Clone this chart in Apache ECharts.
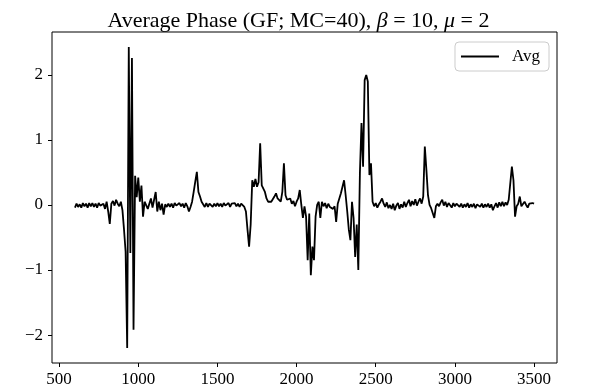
<!DOCTYPE html>
<html>
<head>
<meta charset="utf-8">
<script src="https://cdn.jsdelivr.net/npm/echarts@6/dist/echarts.min.js"></script>
<style>
  html, body { margin: 0; padding: 0; background: #fff; }
  #chart { width: 597px; height: 392px; }
</style>
</head>
<body>
<div id="chart"></div>
<script>
// x grid of the run (600 .. 3500, step 10)
const xStart = 600;
const xStep = 10;

// average phase, one row per 100 units of x
const avgPhase = [
  -0.04, 0.02, -0.03, 0.01, -0.04, 0.03, -0.02, 0.02, -0.04, 0.03,   // 600
  -0.02, 0.03, -0.03, 0.02, -0.04, 0.03, -0.01, -0.03, 0.02, -0.06,  // 700
  0.05, -0.10, -0.29, 0.02, 0.06, -0.01, 0.08, 0.02, -0.02, 0.05,    // 800
  -0.08, -0.38, -0.72, -2.20, 2.43, -0.74, 2.26, -1.92, 0.45, 0.12,  // 900
  0.42, 0.05, 0.30, -0.18, 0.05, 0.07, -0.06, -0.08, 0.10, -0.04,    // 1000
  0.08, 0.20, -0.10, 0.05, -0.08, 0.02, -0.15, 0.01, -0.03, 0.02,    // 1100
  -0.03, 0.02, -0.04, 0.03, -0.01, -0.03, 0.03, -0.02, 0.02, -0.04,  // 1200
  0.03, -0.02, -0.10, -0.03, 0.05, 0.20, 0.36, 0.51, 0.20, 0.13,     // 1300
  0.05, 0.03, -0.03, 0.03, -0.03, 0.02, 0.03, -0.03, 0.02, -0.02,    // 1400
  0.03, -0.02, 0.02, -0.03, 0.03, -0.01, -0.02, 0.03, -0.03, 0.02,   // 1500
  -0.01, 0.03, -0.02, 0.02, -0.03, 0.02, -0.01, -0.03, -0.10, -0.38, // 1600
  -0.64, -0.30, 0.38, 0.28, 0.40, 0.28, 0.35, 0.95, 0.30, 0.32,      // 1700
  0.20, 0.10, 0.05, 0.02, 0.05, 0.08, 0.13, 0.18, 0.10, 0.13,        // 1800
  0.05, 0.20, 0.64, 0.15, 0.08, 0.05, 0.10, 0.02, 0.06, -0.02,       // 1900
  0.05, 0.10, 0.23, 0.00, -0.20, -0.02, -0.18, -0.85, -0.13, -1.08,  // 2000
  -0.64, -0.85, -0.18, 0.00, 0.05, -0.20, 0.05, -0.02, 0.03, -0.05,  // 2100
  0.02, -0.03, 0.00, -0.06, -0.02, -0.26, 0.02, 0.05, 0.18, 0.20,    // 2200
  0.38, 0.15, -0.10, -0.38, -0.54, 0.05, -0.20, -0.80, -0.30, -1.00, // 2300
  0.49, 1.26, 0.59, 1.92, 2.00, 1.90, 0.46, 0.64, 0.05, -0.02,       // 2400
  0.03, -0.04, 0.01, 0.05, 0.10, 0.02, -0.03, 0.04, -0.05, 0.00,     // 2500
  -0.06, 0.02, -0.08, -0.01, 0.03, -0.06, 0.01, -0.04, 0.05, -0.03,  // 2600
  0.03, 0.08, -0.02, 0.06, 0.00, 0.09, -0.01, 0.05, 0.10, 0.02,      // 2700
  0.13, 0.90, 0.54, 0.15, 0.00, -0.05, -0.08, -0.20, -0.02, 0.02,    // 2800
  -0.02, 0.04, 0.08, -0.01, 0.05, -0.03, 0.03, 0.00, -0.04, 0.03,    // 2900
  -0.02, 0.02, 0.04, -0.03, 0.02, -0.04, 0.01, -0.03, 0.03, -0.04,   // 3000
  0.01, -0.03, 0.02, -0.05, 0.01, 0.03, -0.03, 0.02, -0.04, 0.01,    // 3100
  -0.03, 0.02, -0.04, 0.01, -0.08, -0.02, 0.03, -0.04, 0.04, -0.02,  // 3200
  0.05, -0.02, 0.04, 0.00, 0.08, 0.10, 0.59, 0.38, -0.18, -0.02,     // 3300
  0.02, 0.13, -0.02, -0.05, 0.05, 0.00, -0.04, 0.02, 0.01, 0.03,     // 3400
  0.02                                                               // 3500
];

const xTicks = [500, 1000, 1500, 2000, 2500, 3000, 3500];
const yTicks = [-2, -1, 0, 1, 2];

const seriesData = avgPhase.map((v, i) => [xStart + i * xStep, v]);

const serif = "'Liberation Serif', 'DejaVu Serif', serif";
const minus = v => (v < 0 ? '\u2212' + Math.abs(v) : String(v));

const myChart = echarts.init(document.getElementById('chart'));
myChart.setOption({
  animation: false,
  backgroundColor: '#fff',
  title: {
    text: 'Average Phase (GF; MC=40), {i|\u03b2} = 10, {i|\u03bc} = 2',
    left: 'center',
    top: 5,
    textStyle: {
      fontFamily: serif,
      fontSize: 22,
      fontWeight: 'normal',
      color: '#000',
      rich: {
        i: { fontFamily: serif, fontSize: 22, fontStyle: 'italic', color: '#000' }
      }
    }
  },
  grid: {
    left: 52,
    right: 40,
    top: 32,
    bottom: 29,
    show: true,
    borderColor: '#000',
    borderWidth: 1,
    backgroundColor: 'transparent'
  },
  legend: {
    right: 48,
    top: 42,
    itemWidth: 38,
    itemHeight: 14,
    padding: [6, 9, 6, 6],
    borderColor: '#cccccc',
    borderWidth: 1,
    borderRadius: 4,
    backgroundColor: '#fff',
    icon: 'path://M0,6 L38,6 L38,8 L0,8 Z',
    itemStyle: { color: '#000' },
    textStyle: { fontFamily: serif, fontSize: 17, color: '#000', padding: [0, 0, 0, 8] },
    data: ['Avg']
  },
  xAxis: {
    type: 'value',
    min: 455,
    max: 3645,
    axisLine: { show: false, onZero: false },
    splitLine: { show: false },
    axisTick: { show: true, length: 4, lineStyle: { color: '#000' }, customValues: xTicks },
    axisLabel: {
      margin: 8,
      fontFamily: serif,
      fontSize: 17,
      color: '#000',
      customValues: xTicks,
      formatter: v => String(v)
    }
  },
  yAxis: {
    type: 'value',
    min: -2.43,
    max: 2.66,
    axisLine: { show: false, onZero: false },
    splitLine: { show: false },
    axisTick: { show: true, length: 4, lineStyle: { color: '#000' }, customValues: yTicks },
    axisLabel: {
      margin: 9,
      fontFamily: serif,
      fontSize: 17,
      color: '#000',
      customValues: yTicks,
      formatter: minus
    }
  },
  series: [{
    name: 'Avg',
    type: 'line',
    data: seriesData,
    showSymbol: false,
    symbol: 'none',
    lineStyle: { color: '#000', width: 1.8 },
    itemStyle: { color: '#000' }
  }]
});
</script>
</body>
</html>
